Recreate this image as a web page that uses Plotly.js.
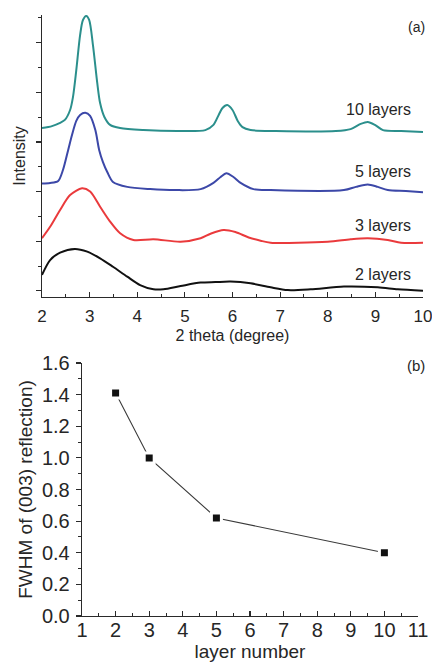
<!DOCTYPE html>
<html>
<head>
<meta charset="utf-8">
<script src="https://cdn.plot.ly/plotly-3.0.1.min.js"></script>
<style>
  html, body { margin: 0; padding: 0; background: #fff; }
  #chart { width: 432px; height: 662px; }
</style>
</head>
<body>
<div id="chart"></div>
<script>
// (a) XRD patterns, stacked with vertical offsets (arbitrary intensity units)
const theta10 = [2.00, 2.21, 2.38, 2.48, 2.59, 2.65, 2.72, 2.80, 2.86, 2.93, 2.99, 3.07, 3.16, 3.22, 3.31, 3.43, 3.64, 4.13, 4.91, 5.43, 5.60, 5.71, 5.79, 5.89, 6.00, 6.11, 6.21, 6.38, 6.91, 8.17, 8.48, 8.69, 8.84, 8.99, 9.16, 9.54, 10.00];
const int10   = [6.56, 6.64, 6.77, 6.89, 7.29, 7.81, 8.90, 10.31, 10.92, 11.08, 10.92, 9.91, 8.38, 7.57, 7.01, 6.69, 6.56, 6.48, 6.44, 6.48, 6.69, 7.09, 7.37, 7.49, 7.29, 6.85, 6.60, 6.48, 6.44, 6.44, 6.52, 6.73, 6.81, 6.69, 6.48, 6.44, 6.40];

const theta5 = [2.00, 2.17, 2.34, 2.44, 2.55, 2.63, 2.72, 2.80, 2.91, 3.01, 3.12, 3.20, 3.28, 3.37, 3.49, 3.79, 4.27, 4.80, 5.33, 5.60, 5.75, 5.87, 6.02, 6.17, 6.44, 6.80, 8.34, 8.59, 8.84, 9.05, 9.26, 9.64, 10.00];
const int5   = [4.33, 4.35, 4.43, 4.87, 5.68, 6.28, 6.85, 7.09, 7.18, 7.05, 6.48, 5.68, 5.19, 4.79, 4.39, 4.19, 4.10, 4.06, 4.10, 4.35, 4.59, 4.74, 4.59, 4.35, 4.10, 4.06, 4.06, 4.19, 4.29, 4.19, 4.06, 4.02, 3.97];

const theta3 = [2.00, 2.17, 2.38, 2.59, 2.84, 3.01, 3.22, 3.43, 3.64, 3.92, 4.34, 4.91, 5.33, 5.54, 5.81, 6.06, 6.34, 6.59, 6.80, 8.00, 8.48, 8.84, 9.26, 9.54, 10.00];
const int3   = [2.12, 2.58, 3.26, 3.86, 4.13, 4.00, 3.39, 2.79, 2.32, 2.05, 2.08, 1.98, 2.12, 2.30, 2.45, 2.37, 2.15, 2.02, 1.94, 1.98, 2.08, 2.12, 2.05, 1.94, 1.94];

const theta2 = [2.00, 2.17, 2.38, 2.69, 2.95, 3.22, 3.49, 3.79, 4.06, 4.34, 4.55, 4.91, 5.33, 5.64, 5.96, 6.38, 6.80, 7.16, 7.64, 8.34, 9.05, 9.47, 10.00];
const int2   = [0.64, 1.24, 1.54, 1.69, 1.58, 1.31, 0.97, 0.57, 0.23, 0.06, 0.06, 0.19, 0.33, 0.35, 0.37, 0.30, 0.14, 0.03, 0.06, 0.17, 0.14, 0.06, 0.00];

const seriesNames  = ['10 layers', '5 layers', '3 layers', '2 layers'];
const seriesColors = ['#2b8f8c', '#3c48a8', '#ea3a3c', '#111111'];
const xTickVals = [2, 3, 4, 5, 6, 7, 8, 9, 10];

// (b) FWHM of the (003) reflection versus layer number
const layerNumber = [2, 3, 5, 10];
const fwhm        = [1.41, 1.00, 0.62, 0.40];

const FONT = 'Liberation Sans, Arial, Helvetica, sans-serif';
const INK = '#262626';
const axisColor = '#2a2a2a';

const xrdX = [theta10, theta5, theta3, theta2];
const xrdY = [int10, int5, int3, int2];

const traces = xrdX.map((xs, i) => ({
  x: xs, y: xrdY[i], type: 'scatter', mode: 'lines',
  name: seriesNames[i], xaxis: 'x', yaxis: 'y',
  line: { color: seriesColors[i], width: 2, shape: 'spline', smoothing: 0.8 },
  hoverinfo: 'skip'
}));

// white outline on the squares leaves a small gap where the line meets them
traces.push({
  x: layerNumber, y: fwhm, type: 'scatter', mode: 'lines+markers',
  name: 'FWHM', xaxis: 'x2', yaxis: 'y2',
  line: { color: '#3a3a3a', width: 1.1 },
  marker: { symbol: 'square', size: 10, color: '#111', line: { color: '#fff', width: 3 } }
});

// series labels, right-aligned next to each baseline
const labelY = [7.29, 4.83, 2.65, 0.64];
const annotations = seriesNames.map((t, i) => ({
  text: t, x: 9.79, y: labelY[i], xref: 'x', yref: 'y',
  showarrow: false, xanchor: 'right', yanchor: 'middle',
  font: { family: FONT, size: 16, color: INK }
}));
annotations.push(
  { text: '(a)', x: 416 / 432, y: 1 - 27 / 662, xref: 'paper', yref: 'paper',
    showarrow: false, xanchor: 'center', yanchor: 'middle',
    font: { family: FONT, size: 14, color: INK } },
  { text: '(b)', x: 416 / 432, y: 1 - 365 / 662, xref: 'paper', yref: 'paper',
    showarrow: false, xanchor: 'center', yanchor: 'middle',
    font: { family: FONT, size: 15, color: INK } }
);

const layout = {
  width: 432, height: 662,
  margin: { l: 0, r: 0, t: 0, b: 0 },
  paper_bgcolor: '#fff', plot_bgcolor: '#fff',
  showlegend: false,
  xaxis: {
    domain: [42 / 432, 423 / 432], anchor: 'y',
    range: [2, 10], tickvals: xTickVals, ticklabeloverflow: 'allow',
    ticks: 'inside', ticklen: 5, tickwidth: 1.2, tickcolor: axisColor,
    minor: { dtick: 0.5, ticks: 'inside', ticklen: 3, tickcolor: axisColor, tickwidth: 1 },
    showline: true, linecolor: axisColor, linewidth: 1.3,
    showgrid: false, zeroline: false,
    tickfont: { family: FONT, size: 17, color: INK }, ticklabelstandoff: 3,
    title: { text: '2 theta (degree)', font: { family: FONT, size: 16, color: INK }, standoff: 5 }
  },
  yaxis: {
    domain: [1 - 297 / 662, 1 - 15 / 662], anchor: 'x',
    range: [-0.25, 11.12], dtick: 2, tick0: 0,
    ticks: 'outside', ticklen: 5, tickwidth: 1.2, tickcolor: axisColor,
    minor: { dtick: 1, ticks: 'outside', ticklen: 3, tickcolor: axisColor, tickwidth: 1 },
    showticklabels: false,
    showline: true, linecolor: axisColor, linewidth: 1.3,
    showgrid: false, zeroline: false,
    title: { text: 'Intensity', font: { family: FONT, size: 16, color: INK }, standoff: 6 }
  },
  xaxis2: {
    domain: [82 / 432, 418 / 432], anchor: 'y2',
    range: [1, 11], dtick: 1, tick0: 1, ticklabeloverflow: 'allow',
    ticks: 'inside', ticklen: 5, tickwidth: 1.2, tickcolor: axisColor,
    minor: { dtick: 0.5, ticks: 'inside', ticklen: 3, tickcolor: axisColor, tickwidth: 1 },
    showline: true, linecolor: axisColor, linewidth: 1.3,
    showgrid: false, zeroline: false,
    tickfont: { family: FONT, size: 20, color: INK }, ticklabelstandoff: -4,
    title: { text: 'layer number', font: { family: FONT, size: 19, color: INK }, standoff: 4 }
  },
  yaxis2: {
    domain: [1 - 616 / 662, 1 - 363 / 662], anchor: 'x2',
    range: [0, 1.6], dtick: 0.2, tick0: 0, tickformat: '.1f',
    ticks: 'outside', ticklen: 5, tickwidth: 1.2, tickcolor: axisColor,
    minor: { dtick: 0.1, ticks: 'outside', ticklen: 3, tickcolor: axisColor, tickwidth: 1 },
    showline: true, linecolor: axisColor, linewidth: 1.3,
    showgrid: false, zeroline: false,
    tickfont: { family: FONT, size: 20, color: INK }, ticklabelstandoff: 2,
    title: { text: 'FWHM of (003) reflection)', font: { family: FONT, size: 19, color: INK }, standoff: 4 }
  },
  annotations: annotations
};

Plotly.newPlot('chart', traces, layout, { displayModeBar: false, staticPlot: true });
</script>
</body>
</html>
